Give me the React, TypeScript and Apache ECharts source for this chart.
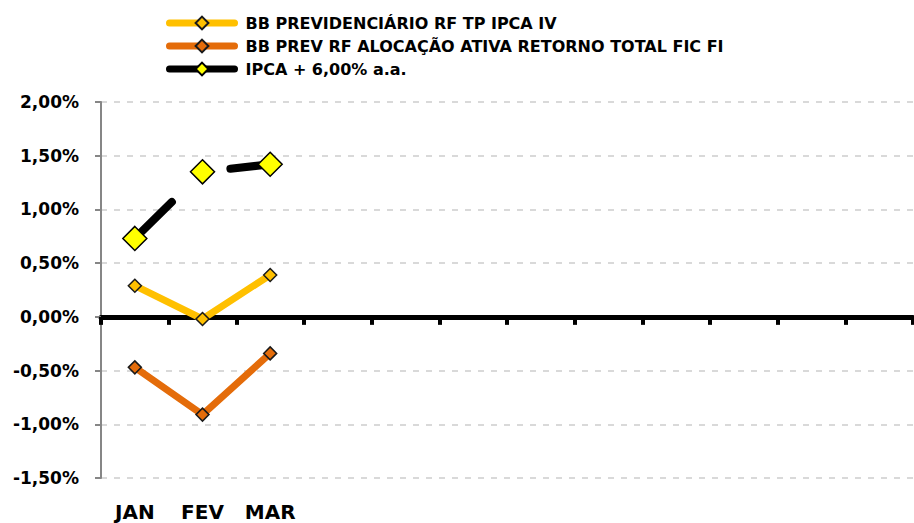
import React, { useEffect, useRef } from "react";
import * as echarts from "echarts";

const months = ["JAN", "FEV", "MAR", "", "", "", "", "", "", "", "", ""];
const seriesNames = [
  "BB PREVIDENCIÁRIO RF TP IPCA IV",
  "BB PREV RF ALOCAÇÃO ATIVA RETORNO TOTAL FIC FI",
  "IPCA + 6,00% a.a.",
];
const tpIpca = [0.29, -0.02, 0.39];
const alocacao = [-0.47, -0.91, -0.34];
const ipcaMeta = [0.73, 1.35, 1.42];
const yTicks = { min: -1.5, max: 2.0, interval: 0.5 };

const FONT = "DejaVu Sans";

export default function App() {
  const ref = useRef<HTMLDivElement>(null);
  useEffect(() => {
    if (!ref.current) return;
    const chart = echarts.init(ref.current, undefined, { renderer: "svg" });
    chart.setOption({
      animation: false,
      backgroundColor: "#ffffff",
      textStyle: { fontFamily: FONT },
      legend: {
        orient: "vertical",
        left: 161,
        top: 10,
        itemWidth: 65,
        itemHeight: 16,
        itemGap: 7,
        lineStyle: { width: 7, cap: "round", type: "solid" },
        textStyle: {
          fontFamily: FONT,
          fontWeight: "bold",
          fontSize: 16,
          lineHeight: 16,
          color: "#000",
          padding: [0, 0, 0, 6],
        },
        data: seriesNames,
      },
      grid: { left: 101, right: 1, top: 102, bottom: 45 },
      xAxis: {
        type: "category",
        data: months,
        boundaryGap: true,
        axisLine: { onZero: true, lineStyle: { color: "#000", width: 5 } },
        axisTick: { show: true, length: 8, lineStyle: { color: "#000", width: 4 } },
        axisLabel: {
          show: true,
          interval: 0,
          margin: 24,
          fontFamily: FONT,
          fontWeight: "bold",
          fontSize: 20,
          color: "#000",
        },
        position: "bottom",
      },
      yAxis: {
        type: "value",
        min: yTicks.min,
        max: yTicks.max,
        interval: yTicks.interval,
        axisLine: { show: true, lineStyle: { color: "#868686", width: 2 } },
        axisTick: { show: true, length: 6, lineStyle: { color: "#868686", width: 2 } },
        axisLabel: {
          margin: 22,
          fontFamily: FONT,
          fontWeight: "bold",
          fontSize: 17,
          color: "#000",
          formatter: (v: number) => v.toFixed(2).replace(".", ",") + "%",
        },
        splitLine: { show: true, lineStyle: { color: "#D9D9D9", width: 2, type: [6, 7] } },
      },
      series: [
        {
          name: seriesNames[2],
          type: "line",
          data: ipcaMeta,
          symbol: "diamond",
          symbolSize: 24,
          lineStyle: { color: "#000", width: 8, cap: "round", type: [52, 71, 300] },
          itemStyle: { color: "#FFFF00", borderColor: "#000", borderWidth: 1.5 },
          z: 3,
        },
        {
          name: seriesNames[0],
          type: "line",
          data: tpIpca,
          symbol: "diamond",
          symbolSize: 13,
          lineStyle: { color: "#FFC000", width: 7 },
          itemStyle: { color: "#FFC000", borderColor: "#1a1a1a", borderWidth: 1.5 },
          z: 4,
        },
        {
          name: seriesNames[1],
          type: "line",
          data: alocacao,
          symbol: "diamond",
          symbolSize: 13,
          lineStyle: { color: "#E46C0A", width: 7 },
          itemStyle: { color: "#E46C0A", borderColor: "#1a1a1a", borderWidth: 1.5 },
          z: 4,
        },
      ],
    });
    return () => chart.dispose();
  }, []);
  return <div ref={ref} style={{ width: 914, height: 523, position: "fixed", left: 0, top: 0 }} />;
}
